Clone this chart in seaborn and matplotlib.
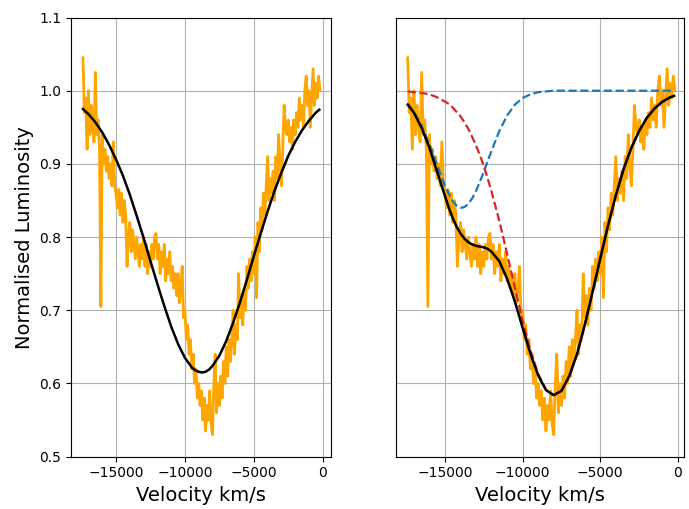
import numpy as np
import matplotlib
matplotlib.use("Agg")
import matplotlib.pyplot as plt
import seaborn as sns

# ---------------- data ----------------
# observed spectrum (same in both panels), sampled every 100 km/s from -17400 to -200
spec_velocity = np.arange(-17400, -100, 100)
spec_lum = [
    1.045, 0.97, 0.99, 0.92, 1.00, 0.94, 0.98, 0.95, 0.93, 1.025,   # -17400 .. -16500
    0.94, 0.96, 0.92, 0.705, 0.94, 0.90, 0.92, 0.89, 0.91, 0.88,    # -16400 .. -15500
    0.90, 0.87, 0.93, 0.87, 0.86, 0.84, 0.865, 0.83, 0.86, 0.82,    # -15400 .. -14500
    0.85, 0.83, 0.76, 0.80, 0.82, 0.78, 0.81, 0.79, 0.77, 0.80,     # -14400 .. -13500
    0.78, 0.76, 0.79, 0.77, 0.80, 0.76, 0.79, 0.75, 0.78, 0.76,     # -13400 .. -12500
    0.79, 0.77, 0.80, 0.805, 0.77, 0.79, 0.75, 0.78, 0.76, 0.79,    # -12400 .. -11500
    0.74, 0.77, 0.75, 0.78, 0.74, 0.76, 0.73, 0.75, 0.72, 0.75,     # -11400 .. -10500
    0.71, 0.73, 0.76, 0.69, 0.70, 0.66, 0.68, 0.64, 0.66, 0.62,     # -10400 .. -9500
    0.64, 0.60, 0.62, 0.58, 0.60, 0.57, 0.59, 0.55, 0.58, 0.535,    # -9400 .. -8500
    0.57, 0.55, 0.59, 0.545, 0.53, 0.60, 0.64, 0.56, 0.60, 0.57,    # -8400 .. -7500
    0.61, 0.58, 0.63, 0.60, 0.65, 0.61, 0.66, 0.63, 0.66, 0.70,     # -7400 .. -6500
    0.64, 0.68, 0.66, 0.75, 0.69, 0.72, 0.68, 0.73, 0.70, 0.76,     # -6400 .. -5500
    0.73, 0.77, 0.74, 0.78, 0.75, 0.80, 0.717, 0.82, 0.78, 0.84,    # -5400 .. -4500
    0.81, 0.86, 0.83, 0.87, 0.91, 0.85, 0.88, 0.86, 0.89, 0.85,     # -4400 .. -3500
    0.91, 0.88, 0.94, 0.90, 0.87, 0.92, 0.98, 0.95, 0.94, 0.96,     # -3400 .. -2500
    0.93, 0.95, 0.92, 0.96, 0.94, 0.97, 0.95, 0.99, 0.96, 0.98,     # -2400 .. -1500
    0.95, 1.00, 1.02, 0.98, 1.00, 0.95, 0.99, 1.03, 0.98, 1.01,     # -1400 .. -500
    0.99, 1.02, 1.00,                                               # -400 .. -200
]

# single-component fit (left panel)
fit1_velocity = [-17400, -17000, -16500, -16000, -15500, -15000, -14500, -14000,
                 -13500, -13000, -12500, -12000, -11500, -11000, -10500, -10000,
                 -9500, -9250, -9000, -8750, -8500, -8250, -8000, -7500, -7000,
                 -6500, -6000, -5500, -5000, -4500, -4000, -3500, -3000, -2500,
                 -2000, -1500, -1000, -500, -250]
fit1_lum = [0.975, 0.968, 0.957, 0.943, 0.926, 0.906, 0.884, 0.858,
            0.829, 0.799, 0.767, 0.736, 0.706, 0.678, 0.654, 0.635,
            0.622, 0.618, 0.616, 0.615, 0.616, 0.619, 0.624, 0.638, 0.658,
            0.683, 0.711, 0.742, 0.774, 0.805, 0.835, 0.863, 0.888, 0.911,
            0.930, 0.946, 0.959, 0.970, 0.974]

# two-component fit (right panel)
fit2_velocity = [-17400, -17000, -16500, -16000, -15500, -15000, -14750, -14500,
                 -14250, -14000, -13750, -13500, -13250, -13000, -12750, -12500,
                 -12250, -12000, -11500, -11000, -10500, -10000, -9500, -9000,
                 -8500, -8000, -7500, -7000, -6500, -6000, -5500, -5000, -4500,
                 -4000, -3500, -3000, -2500, -2000, -1500, -1000, -500, -250]
comp_blue = [0.982, 0.971, 0.952, 0.927, 0.898, 0.870, 0.859, 0.849,
             0.843, 0.840, 0.841, 0.845, 0.853, 0.863, 0.876, 0.889,
             0.904, 0.918, 0.945, 0.966, 0.981, 0.990, 0.995, 0.998,
             0.999, 1.000, 1.000, 1.000, 1.000, 1.000, 1.000, 1.000, 1.000,
             1.000, 1.000, 1.000, 1.000, 1.000, 1.000, 1.000, 1.000, 1.000]
comp_red = [0.999, 0.998, 0.997, 0.995, 0.991, 0.985, 0.982, 0.977,
            0.971, 0.965, 0.957, 0.948, 0.937, 0.925, 0.912, 0.897,
            0.880, 0.862, 0.822, 0.777, 0.731, 0.686, 0.645, 0.613,
            0.592, 0.584, 0.590, 0.610, 0.640, 0.680, 0.725, 0.771, 0.816,
            0.857, 0.893, 0.922, 0.945, 0.963, 0.976, 0.985, 0.991, 0.993]
fit2_lum = [0.981, 0.970, 0.949, 0.922, 0.889, 0.856, 0.840, 0.826,
            0.814, 0.805, 0.798, 0.793, 0.790, 0.788, 0.787, 0.786,
            0.784, 0.780, 0.767, 0.743, 0.712, 0.676, 0.641, 0.611,
            0.591, 0.584, 0.590, 0.610, 0.640, 0.680, 0.725, 0.771, 0.816,
            0.857, 0.893, 0.922, 0.945, 0.963, 0.976, 0.985, 0.991, 0.993]

x_ticks = [-15000, -10000, -5000, 0]
y_ticks = [0.5, 0.6, 0.7, 0.8, 0.9, 1.0, 1.1]

# ---------------- figure ----------------
plt.rcParams["font.family"] = ["DejaVu Sans"]
fig = plt.figure(figsize=(6.89, 5.09), dpi=100)
ax1 = fig.add_axes([0.1030, 0.1028, 0.3770, 0.8628])
ax2 = fig.add_axes([0.5743, 0.1028, 0.4184, 0.8628])

# left panel
sns.lineplot(x=spec_velocity, y=spec_lum, ax=ax1, color="orange", lw=2.0,
             estimator=None, sort=False)
sns.lineplot(x=fit1_velocity, y=fit1_lum, ax=ax1, color="black", lw=1.8,
             estimator=None, sort=False)

# right panel
sns.lineplot(x=spec_velocity, y=spec_lum, ax=ax2, color="orange", lw=2.0,
             estimator=None, sort=False)
sns.lineplot(x=fit2_velocity, y=comp_blue, ax=ax2, color="#1f77b4", lw=1.6,
             linestyle="--", estimator=None, sort=False)
sns.lineplot(x=fit2_velocity, y=comp_red, ax=ax2, color="#d62728", lw=1.6,
             linestyle="--", estimator=None, sort=False)
sns.lineplot(x=fit2_velocity, y=fit2_lum, ax=ax2, color="black", lw=1.8,
             estimator=None, sort=False)

ax1.set_xlim(-18270, 581)
ax2.set_xlim(-18172, 386)
for ax in (ax1, ax2):
    ax.set_ylim(0.5, 1.1)
    ax.set_xticks(x_ticks)
    ax.set_yticks(y_ticks)
    ax.grid(True, color="#b0b0b0", lw=0.8)
    ax.set_axisbelow(True)
    ax.tick_params(labelsize=10)
    ax.set_xlabel("Velocity km/s", fontsize=14)
    for s in ax.spines.values():
        s.set_color("black")
        s.set_linewidth(0.8)

ax1.set_ylabel("Normalised Luminosity", fontsize=14)
ax2.set_ylabel("")
ax2.tick_params(axis="y", left=False, labelleft=False)

fig.savefig("out.png", dpi=100)
